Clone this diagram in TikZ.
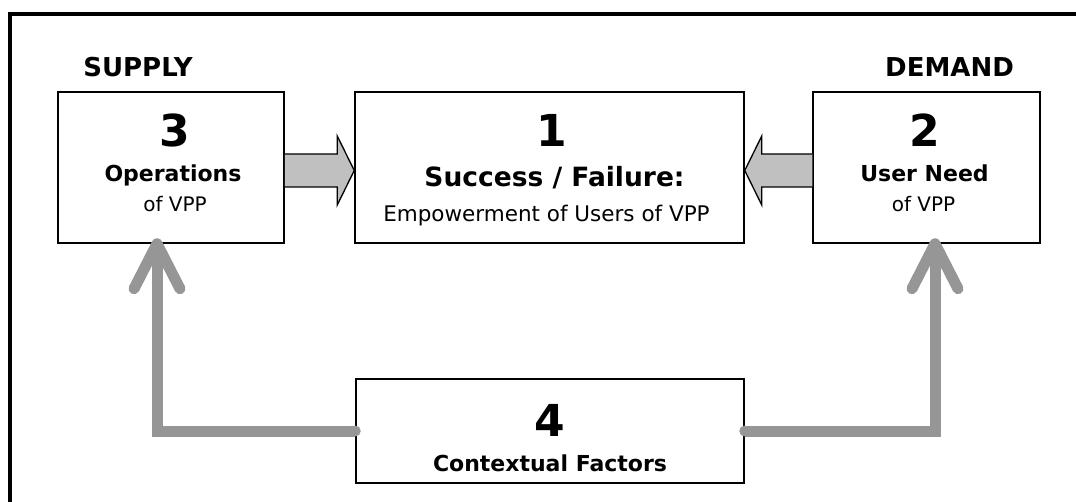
\documentclass[tikz,border=0pt]{standalone}
\usepackage{fontspec}
\setmainfont{DejaVu Sans}
\usetikzlibrary{calc}
\definecolor{conngray}{RGB}{150,150,150}
\definecolor{arrowfill}{RGB}{192,192,192}
\begin{document}
\begin{tikzpicture}[x=1pt,y=-1pt,
  box/.style={draw, line width=1.5pt, inner sep=0pt},
  txt/.style={anchor=base, inner sep=0pt},
  num/.style={txt, font=\fontsize{44}{44}\selectfont\bfseries},
  head/.style={txt, font=\fontsize{22}{22}\selectfont\bfseries},
  sub/.style={txt, font=\fontsize{20}{20}\selectfont},
  label/.style={txt, font=\fontsize{26}{26}\selectfont\bfseries},
  blockarrow/.style={draw, fill=arrowfill, line width=1.3pt, line join=miter},
  conn/.style={draw=conngray, line width=11pt},
  chevron/.style={draw=conngray, line width=11pt, line cap=round, line join=round}
]
\useasboundingbox (0,0) rectangle (1076,502);
% frame
\draw[line width=4pt] (10,502) |- (1076,14.5);

% boxes
\node[box, minimum width=226pt, minimum height=151pt] (b3) at (171,167.5) {};
\node[box, minimum width=389pt, minimum height=151pt] (b1) at (549.5,167.5) {};
\node[box, minimum width=227pt, minimum height=151pt] (b2) at (926.5,167.5) {};
\node[box, minimum width=388pt, minimum height=104pt] (b4) at (550,431) {};

% labels
\node[label] (supply) at (138,77) {SUPPLY};
\node[label] (demand) at (949.5,77) {DEMAND};

% box texts
\node[num] (n3) at ($(b3.north)+(4,55)$) {3};
\node[head] (h3) at ($(b3.north)+(2,90)$) {Operations};
\node[sub] (s3) at ($(b3.north)+(4,120)$) {of VPP};

\node[num] (n1) at ($(b1.north)+(2,55)$) {1};
\node[head, font=\fontsize{26.5}{26.5}\selectfont\bfseries] (h1) at ($(b1.north)+(5,95)$) {Success / Failure:};
\node[sub, font=\fontsize{21.5}{21.5}\selectfont] (s1) at ($(b1.north)+(-3,130)$) {Empowerment of Users of VPP};

\node[num] (n2) at ($(b2.north)+(-2,55)$) {2};
\node[head] (h2) at ($(b2.north)+(-2,90)$) {User Need};
\node[sub] (s2) at ($(b2.north)+(-3,120)$) {of VPP};

\node[num] (n4) at ($(b4.north)+(0,58)$) {4};
\node[head] (h4) at ($(b4.north)+(0,93)$) {Contextual Factors};

% block arrows
\filldraw[blockarrow] ($(b3.east)+(0,-13.5)$) -- ($(b1.west)+(-17,-13.5)$) -- ($(b1.west)+(-17,-31.5)$) -- ($(b1.west)+(0,3)$) -- ($(b1.west)+(-17,37.5)$) -- ($(b1.west)+(-17,19.5)$) -- ($(b3.east)+(0,19.5)$);
\filldraw[blockarrow] ($(b2.west)+(0,-13.5)$) -- ($(b1.east)+(17,-13.5)$) -- ($(b1.east)+(17,-31.5)$) -- ($(b1.east)+(0,3)$) -- ($(b1.east)+(17,37.5)$) -- ($(b1.east)+(17,19.5)$) -- ($(b2.west)+(0,19.5)$);

% gray connectors
\coordinate (tipL) at ($(b3.south)+(-14,0)$);
\coordinate (tipR) at ($(b2.south)+(8.5,0)$);
\draw[conn] (b4.west) -| (tipL);
\draw[conn] (b4.east) -| (tipR);
\fill[conngray] (b4.west) circle (5.5pt);
\fill[conngray] (b4.east) circle (5.5pt);
\draw[chevron] ($(tipL)+(-23,45)$) -- (tipL) -- ($(tipL)+(23,45)$);
\draw[chevron] ($(tipR)+(-23,45)$) -- (tipR) -- ($(tipR)+(23,45)$);
\end{tikzpicture}
\end{document}
